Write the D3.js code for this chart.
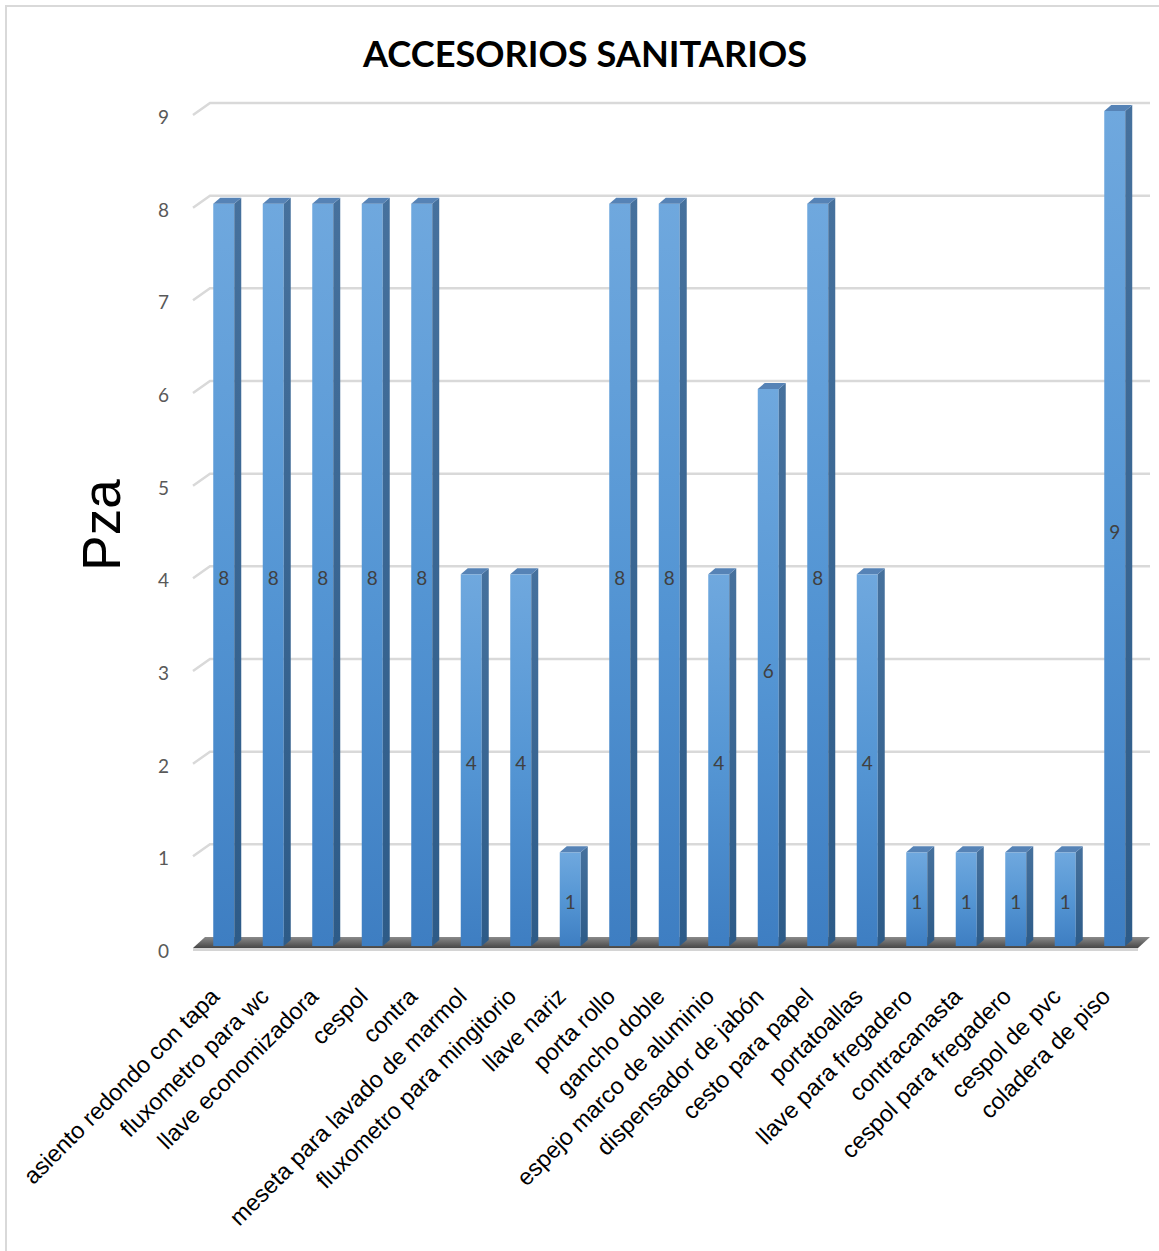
<!DOCTYPE html>
<html>
<head>
<meta charset="utf-8">
<script src="https://d3js.org/d3.v7.min.js"></script>
<style>
  html, body { margin: 0; padding: 0; background: #fff; }
  svg { display: block; }
</style>
</head>
<body>
<script>
// Accesorios sanitarios: piece counts per item
const categories = [
  "asiento redondo con tapa", "fluxometro para wc", "llave economizadora", "cespol",
  "contra", "meseta para lavado de marmol", "fluxometro para mingitorio", "llave nariz",
  "porta rollo", "gancho doble", "espejo marco de aluminio", "dispensador de jabón",
  "cesto para papel", "portatoallas", "llave para fregadero", "contracanasta",
  "cespol para fregadero", "cespol de pvc", "coladera de piso"
];
const values = [8, 8, 8, 8, 8, 4, 4, 1, 8, 8, 4, 6, 8, 4, 1, 1, 1, 1, 9];
const yTicks = [0, 1, 2, 3, 4, 5, 6, 7, 8, 9];
const chartTitle = "ACCESORIOS SANITARIOS";
const axisTitle = "Pza";

const W = 1159, H = 1251;
const svg = d3.select("body").append("svg").attr("width", W).attr("height", H);

// gradients for the 3D bar faces and the floor
const defs = svg.append("defs");
function vGrad(id, stops) {
  const g = defs.append("linearGradient").attr("id", id)
    .attr("x1", 0).attr("y1", 0).attr("x2", 0).attr("y2", 1);
  stops.forEach(([o, c]) => g.append("stop").attr("offset", o).attr("stop-color", c));
}
vGrad("front", [[0, "#6fa8de"], [0.5, "#5596d4"], [1, "#3e7ec2"]]);
vGrad("side", [[0, "#46719d"], [1, "#2d5b88"]]);
vGrad("floor", [[0, "#8a8a8a"], [1, "#474747"]]);

// outer chart border
svg.append("rect").attr("x", 6).attr("y", 6).attr("width", W + 10).attr("height", H + 10)
  .attr("fill", "none").attr("stroke", "#d9d9d9").attr("stroke-width", 2);

// back-wall value scale and category scale
const y = d3.scaleLinear().domain([0, 9]).range([937, 103]);
const x = d3.scaleBand().domain(categories).range([199, 1139.5])
  .paddingInner(0.5758).paddingOuter(0.2879);

const depthX = 17, depthY = 12;   // gridline perspective
const wallLeft = 210, wallRight = 1150;
const barDX = 7, barDY = 6, barFront = 8;

// gridlines with diagonal side-wall segment
const grid = svg.append("g");
yTicks.filter(t => t > 0).forEach(t => {
  grid.append("path")
    .attr("d", `M${wallLeft - depthX},${y(t) + depthY} L${wallLeft},${y(t)} L${wallRight},${y(t)}`)
    .attr("fill", "none").attr("stroke", "#d9d9d9").attr("stroke-width", 2.5);
});

// floor
const y0 = y(0);
svg.append("path")
  .attr("d", `M${wallLeft - 5},${y0} L${wallRight},${y0} L${wallRight - 12},${y0 + 11} L${wallLeft - depthX},${y0 + 11} Z`)
  .attr("fill", "url(#floor)");
svg.append("path")
  .attr("d", `M${wallLeft - depthX},${y0 + 12.5} L${wallRight - 12},${y0 + 12.5}`)
  .attr("stroke", "#d4d4d4").attr("stroke-width", 3);

// y tick labels
svg.append("g").selectAll("text").data(yTicks).join("text")
  .attr("x", 163.5).attr("y", d => y(d) + 13.5)
  .attr("text-anchor", "middle").attr("dominant-baseline", "central")
  .attr("font-family", "Lato, 'Open Sans', sans-serif").attr("font-size", 19)
  .attr("fill", "#595959").text(d => d);

// bars drawn as front, side and top faces
const bars = svg.append("g").selectAll("g").data(categories).join("g");
const bw = x.bandwidth();
const frontTop = (i) => y(values[i]) + barFront;
const frontBot = y(0) + barFront + 1;
bars.append("rect")
  .attr("x", d => x(d)).attr("y", (d, i) => frontTop(i))
  .attr("width", bw).attr("height", (d, i) => frontBot - frontTop(i))
  .attr("fill", "url(#front)");
bars.append("path")
  .attr("d", (d, i) => {
    const xr = x(d) + bw, t = frontTop(i);
    return `M${xr},${t} L${xr + barDX},${t - barDY} L${xr + barDX},${frontBot - barDY} L${xr},${frontBot} Z`;
  })
  .attr("fill", "url(#side)");
bars.append("path")
  .attr("d", (d, i) => {
    const xl = x(d), t = frontTop(i);
    return `M${xl},${t} L${xl + bw},${t} L${xl + bw + barDX},${t - barDY} L${xl + barDX},${t - barDY} Z`;
  })
  .attr("fill", "#5683b6");

// value labels at mid-height of each bar
bars.append("text")
  .attr("x", d => x(d) + bw / 2)
  .attr("y", (d, i) => y(values[i] / 2) + 11)
  .attr("text-anchor", "middle").attr("dominant-baseline", "central")
  .attr("font-family", "Lato, 'Open Sans', sans-serif").attr("font-size", 19)
  .attr("fill", "#404040").text((d, i) => values[i]);

// rotated category labels
svg.append("g").selectAll("text").data(categories).join("text")
  .attr("transform", d => `translate(${x(d) + bw / 2 - 3},998) rotate(-45)`)
  .attr("text-anchor", "end")
  .attr("font-family", "'Liberation Sans', Arial, sans-serif").attr("font-size", 23.5)
  .attr("fill", "#000").text(d => d);

// chart title
svg.append("text")
  .attr("x", 585).attr("y", 67).attr("text-anchor", "middle")
  .attr("font-family", "Lato, 'Open Sans', sans-serif").attr("font-weight", "bold")
  .attr("font-size", 37).attr("fill", "#000")
  .attr("textLength", 444).attr("lengthAdjust", "spacingAndGlyphs")
  .text(chartTitle);

// value axis title
svg.append("text")
  .attr("transform", "translate(120,525) rotate(-90)")
  .attr("text-anchor", "middle")
  .attr("font-family", "'Liberation Sans', Arial, sans-serif").attr("font-size", 53)
  .attr("fill", "#000").text(axisTitle);
</script>
</body>
</html>
